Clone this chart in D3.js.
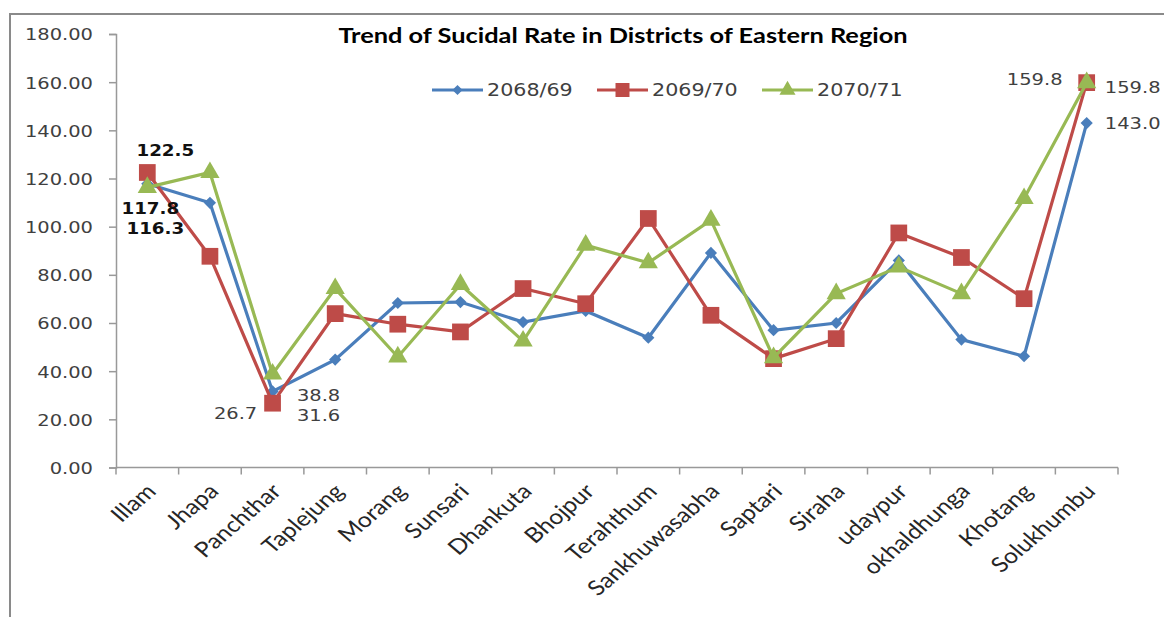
<!DOCTYPE html>
<html>
<head>
<meta charset="utf-8">
<script src="https://cdn.jsdelivr.net/npm/d3@7"></script>
<style>
  html, body { margin: 0; padding: 0; background: #fff; }
  svg { display: block; }
</style>
</head>
<body>
<svg id="chart" width="1164" height="617"></svg>
<script>
// ---- data ----
const categories = ["Illam","Jhapa","Panchthar","Taplejung","Morang","Sunsari","Dhankuta","Bhojpur","Terahthum","Sankhuwasabha","Saptari","Siraha","udaypur","okhaldhunga","Khotang","Solukhumbu"];
const seriesNames = ["2068/69", "2069/70", "2070/71"];
const values2068 = [117.8,109.9,31.6,44.8,68.3,68.7,60.4,65.0,53.9,89.1,57.0,60.0,86.0,53.1,46.2,143.0];
const values2069 = [122.5,87.7,26.7,63.9,59.5,56.3,74.3,68.0,103.4,63.2,45.2,53.5,97.4,87.2,70.1,159.8];
const values2070 = [116.3,122.5,38.8,74.3,45.9,76.0,52.5,92.3,85.0,102.7,45.6,72.2,83.3,72.2,111.7,159.8];
const yTicks = [0,20,40,60,80,100,120,140,160,180];
const titleText = "Trend of Sucidal Rate in Districts of Eastern Region";

// ---- layout / style ----
const SX = 1.18; // horizontal text stretch of the original picture
const colors = ["#4a7ebb", "#be4b48", "#98b954"];
const symbols = [d3.symbolDiamond2, d3.symbolSquare, d3.symbolTriangle];
const symSizes = [95, 280, 160];
const allSeries = [values2068, values2069, values2070];

const svg = d3.select("#chart");
const plotL = 116, plotR = 1118, plotT = 34, plotB = 467.5;

const x = d3.scaleBand().domain(categories).range([plotL, plotR]).padding(0);
const cx = d => x(d) + x.bandwidth() / 2;
const y = d3.scaleLinear().domain([0, 180]).range([plotB, plotT]);

// outer frame (top + left edges visible)
svg.append("path").attr("d", "M10,617 L10,14 L1164,14")
  .attr("fill", "none").attr("stroke", "#8a8a8a").attr("stroke-width", 2);

function stretchedText(g, px, py, txt, extra) {
  return g.append("text")
    .attr("transform", `translate(${px},${py}) scale(${SX},1)` + (extra || ""))
    .text(txt);
}

// y axis
const yAxis = svg.append("g").attr("transform", `translate(${plotL},0)`)
  .call(d3.axisLeft(y).tickValues(yTicks).tickSize(7).tickPadding(0).tickFormat(d3.format(".2f")));
yAxis.select(".domain").attr("stroke", "#999").attr("stroke-width", 1.5);
yAxis.selectAll(".tick line").attr("stroke", "#999").attr("stroke-width", 1.5);
yAxis.selectAll(".tick text").remove();
yAxis.selectAll(".tick").each(function(d) {
  stretchedText(d3.select(this), -23, 0, d3.format(".2f")(d))
    .attr("text-anchor", "end").attr("dy", "0.36em")
    .attr("font-family", "DejaVu Sans").attr("font-size", 16.5).attr("fill", "#404040");
});

// x axis (ticks between categories)
const xAxisG = svg.append("g").attr("transform", `translate(0,${plotB})`);
xAxisG.append("line").attr("x1", plotL).attr("x2", plotR).attr("y1", 0).attr("y2", 0)
  .attr("stroke", "#999").attr("stroke-width", 1.5);
const boundaries = categories.map(c => x(c)).concat([plotR]);
xAxisG.selectAll("line.tk").data(boundaries).join("line").attr("class", "tk")
  .attr("x1", d => d).attr("x2", d => d).attr("y1", 0).attr("y2", 7)
  .attr("stroke", "#999").attr("stroke-width", 1.5);
categories.forEach(c => {
  stretchedText(svg, cx(c) + 4, plotB + 20, c, " rotate(-45)")
    .attr("text-anchor", "end").attr("dy", "0.35em")
    .attr("font-family", "Lato").attr("font-size", 21).attr("fill", "#262626");
});

// title
stretchedText(svg, 623, 43, titleText)
  .attr("text-anchor", "middle").attr("font-family", "Lato").attr("font-weight", "bold")
  .attr("font-size", 21.5).attr("fill", "#000");

// series
const line = d3.line().x((d, i) => cx(categories[i])).y(d => y(d));
allSeries.forEach((vals, si) => {
  const g = svg.append("g");
  g.append("path").datum(vals).attr("d", line)
    .attr("fill", "none").attr("stroke", colors[si]).attr("stroke-width", 3.2)
    .attr("stroke-linejoin", "miter");
  g.selectAll("path.m").data(vals).join("path").attr("class", "m")
    .attr("transform", (d, i) => `translate(${cx(categories[i])},${y(d)})`)
    .attr("d", d3.symbol().type(symbols[si]).size(symSizes[si]))
    .attr("fill", colors[si]);
});

// legend
const legendX = [432, 597, 762];
seriesNames.forEach((n, si) => {
  const g = svg.append("g").attr("transform", `translate(${legendX[si]},90)`);
  g.append("line").attr("x1", 0).attr("x2", 51).attr("stroke", colors[si]).attr("stroke-width", 3.2);
  g.append("path").attr("transform", "translate(25.5,0)")
    .attr("d", d3.symbol().type(symbols[si]).size(symSizes[si] * 0.7)).attr("fill", colors[si]);
  stretchedText(g, 55, 0, n).attr("dy", "0.36em")
    .attr("font-family", "DejaVu Sans").attr("font-size", 17.5).attr("fill", "#404040");
});

// data labels: [series, category index, dx, dy, bold]
const labelSpecs = [
  [1, 0, 18, -22, true],
  [0, 0, 3, 25, true],
  [2, 0, 8, 41, true],
  [1, 2, -37, 10, false],
  [2, 2, 46, 21, false],
  [0, 2, 46, 24, false],
  [2, 15, -52, -4, false],
  [1, 15, 46, 4, false],
  [0, 15, 46, 0, false]
];
labelSpecs.forEach(([si, ci, dx, dy, bold]) => {
  const v = allSeries[si][ci];
  stretchedText(svg, cx(categories[ci]) + dx, y(v) + dy, d3.format(".1f")(v))
    .attr("text-anchor", "middle").attr("dy", "0.36em")
    .attr("font-family", "DejaVu Sans").attr("font-weight", bold ? "bold" : "normal")
    .attr("font-size", bold ? 15.5 : 16.5).attr("fill", bold ? "#111" : "#404040");
});
</script>
</body>
</html>
